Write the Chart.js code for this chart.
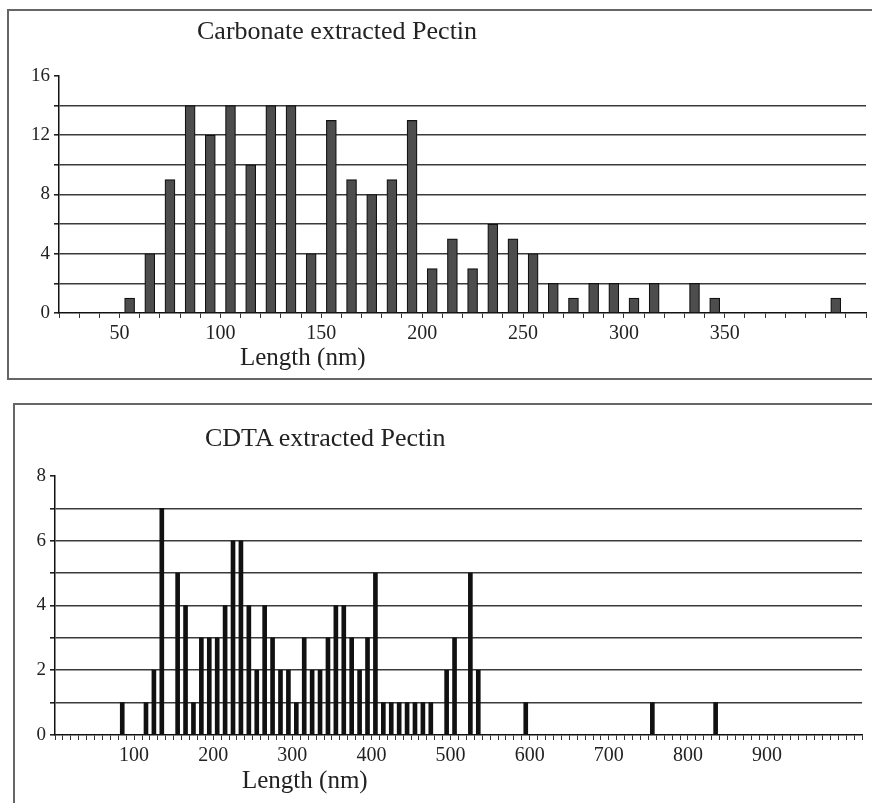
<!DOCTYPE html>
<html>
<head>
<meta charset="utf-8">
<script src="https://cdn.jsdelivr.net/npm/chart.js@4.4.1/dist/chart.umd.min.js"></script>
<style>
  body { margin: 0; background: #fff; width: 872px; height: 803px; overflow: hidden; position: relative; font-family: "Liberation Serif", serif; color: #222; }
  .box { position: absolute; border: 2px solid #666; }
  .txt { position: absolute; white-space: nowrap; color: #222; }
  canvas { position: absolute; left: 0; }
</style>
</head>
<body>
<div class="box" style="left:7px; top:9px; width:880px; height:367px;"></div>
<div class="box" style="left:13px; top:403px; width:880px; height:420px;"></div>
<canvas id="topChart" style="top:0px;"></canvas>
<canvas id="bottomChart" style="top:395px;"></canvas>
<div class="txt" style="left:197px; top:16px; font-size:26px; line-height:30px;">Carbonate extracted Pectin</div>
<div class="txt" style="left:240px; top:343px; font-size:25px; line-height:28px;">Length (nm)</div>
<div class="txt" style="left:205px; top:423px; font-size:26px; line-height:30px;">CDTA extracted Pectin</div>
<div class="txt" style="left:242px; top:766px; font-size:25px; line-height:28px;">Length (nm)</div>
<script>
// Carbonate extracted pectin: bin centres (nm) and counts
var carbBins   = [55, 65, 75, 85, 95, 105, 115, 125, 135, 145, 155, 165, 175, 185, 195, 205, 215, 225, 235, 245, 255, 265, 275, 285, 295, 305, 315, 335, 345, 405];
var carbCounts = [1, 4, 9, 14, 12, 14, 10, 14, 14, 4, 13, 9, 8, 9, 13, 3, 5, 3, 6, 5, 4, 2, 1, 2, 2, 1, 2, 2, 1, 1];
var carbXLabels = [50, 100, 150, 200, 250, 300, 350];
var carbYLabels = [0, 4, 8, 12, 16];

// CDTA extracted pectin: bin centres (nm) and counts
var cdtaBins   = [85, 115, 125, 135, 155, 165, 175, 185, 195, 205, 215, 225, 235, 245, 255, 265, 275, 285, 295, 305, 315, 325, 335, 345, 355, 365, 375, 385, 395, 405, 415, 425, 435, 445, 455, 465, 475, 495, 505, 525, 535, 595, 755, 835];
var cdtaCounts = [1, 1, 2, 7, 5, 4, 1, 3, 3, 3, 4, 6, 6, 4, 2, 4, 3, 2, 2, 1, 3, 2, 2, 3, 4, 4, 3, 2, 3, 5, 1, 1, 1, 1, 1, 1, 1, 2, 3, 5, 2, 1, 1, 1];
var cdtaXLabels = [100, 200, 300, 400, 500, 600, 700, 800, 900];
var cdtaYLabels = [0, 2, 4, 6, 8];

var serif = '"Liberation Serif", "Times New Roman", serif';

function points(xs, ys) {
  return xs.map(function (x, i) { return { x: x, y: ys[i] }; });
}

function makeChart(id, w, h, cfg) {
  var cv = document.getElementById(id);
  cv.width = w; cv.height = h;
  cv.style.width = w + 'px'; cv.style.height = h + 'px';
  return new Chart(cv, {
    type: 'bar',
    data: {
      datasets: [{
        data: points(cfg.bins, cfg.counts),
        backgroundColor: cfg.fill,
        borderColor: '#111',
        borderWidth: cfg.border,
        barThickness: cfg.barW
      }]
    },
    options: {
      responsive: false,
      animation: false,
      events: [],
      layout: { padding: cfg.pad },
      plugins: { legend: { display: false }, tooltip: { enabled: false }, title: { display: false } },
      scales: {
        x: {
          type: 'linear',
          offset: false,
          min: cfg.xMin, max: cfg.xMax,
          afterFit: function (s) { s.height = cfg.xH; },
          border: { color: '#111', width: 1.5 },
          grid: { drawOnChartArea: false, offset: false, tickLength: 5, color: '#333', lineWidth: 1 },
          ticks: {
            stepSize: 10, autoSkip: false, maxTicksLimit: 200, maxRotation: 0, padding: 4,
            color: '#222', font: { family: serif, size: 20 },
            callback: function (v) { return cfg.xLabels.indexOf(v) >= 0 ? String(v) : ''; }
          }
        },
        y: {
          min: 0, max: cfg.yMax,
          afterFit: function (s) { s.width = cfg.yW; },
          border: { color: '#111', width: 1.5 },
          grid: {
            tickLength: 5, tickColor: '#222', lineWidth: 1.6,
            color: function (c) { return (c.tick.value === 0 || c.tick.value === cfg.yMax) ? 'rgba(0,0,0,0)' : '#3a3a3a'; }
          },
          ticks: {
            stepSize: cfg.yStep, padding: 4,
            color: '#222', font: { family: serif, size: 19 },
            callback: function (v) { return cfg.yLabels.indexOf(v) >= 0 ? String(v) : ''; }
          }
        }
      }
    }
  });
}

makeChart('topChart', 872, 390, {
  bins: carbBins, counts: carbCounts, xLabels: carbXLabels, yLabels: carbYLabels,
  xMin: 20, xMax: 420, yMax: 16, yStep: 2,
  fill: '#4d4d4d', border: 1.2, barW: 10,
  pad: { top: 76, right: 6, left: 0, bottom: 0 }, yW: 59, xH: 77
});

makeChart('bottomChart', 872, 408, {
  bins: cdtaBins, counts: cdtaCounts, xLabels: cdtaXLabels, yLabels: cdtaYLabels,
  xMin: 0, xMax: 1020, yMax: 8, yStep: 1,
  fill: '#111', border: 0, barW: 4,
  pad: { top: 81, right: 10, left: 0, bottom: 0 }, yW: 55, xH: 68
});
</script>
</body>
</html>
